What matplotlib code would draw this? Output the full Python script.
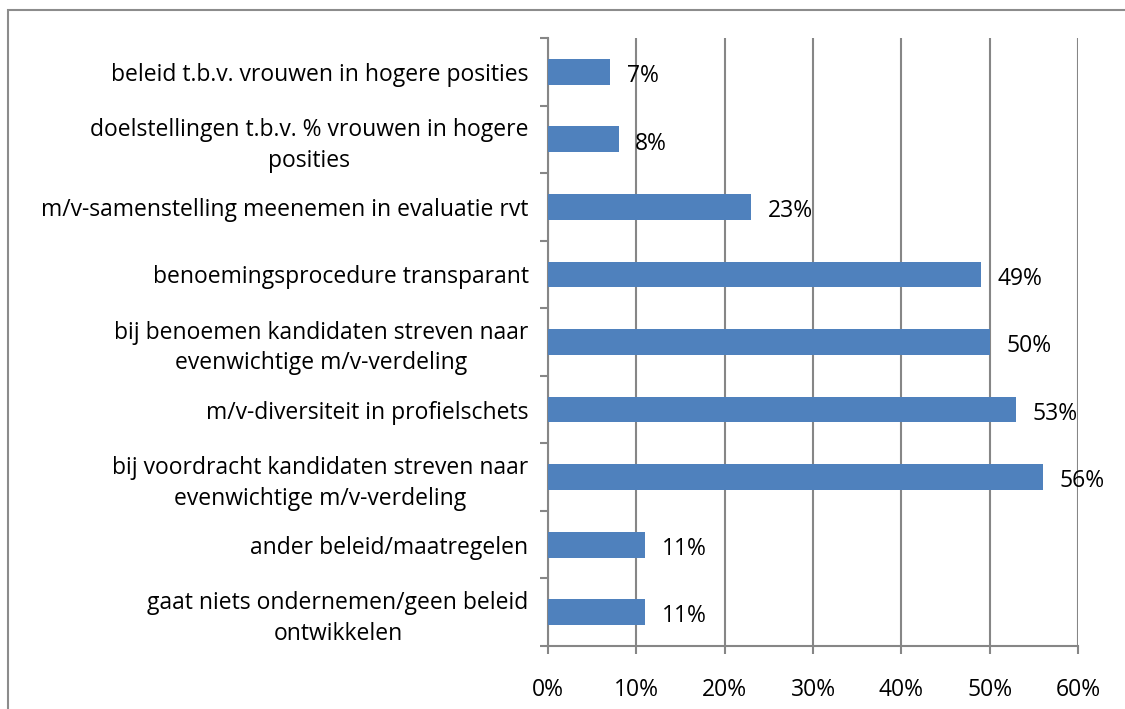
import matplotlib.pyplot as plt
from matplotlib.patches import Rectangle
from matplotlib.ticker import FuncFormatter

plt.rcParams['font.family'] = ['Open Sans', 'DejaVu Sans']

# maatregelen (van boven naar beneden) en aandeel in procenten
categories = [
    'beleid t.b.v. vrouwen in hogere posities',
    'doelstellingen t.b.v. % vrouwen in hogere\nposities',
    'm/v-samenstelling meenemen in evaluatie rvt',
    'benoemingsprocedure transparant',
    'bij benoemen kandidaten streven naar\nevenwichtige m/v-verdeling',
    'm/v-diversiteit in profielschets',
    'bij voordracht kandidaten streven naar\nevenwichtige m/v-verdeling',
    'ander beleid/maatregelen',
    'gaat niets ondernemen/geen beleid\nontwikkelen',
]
values = [7, 8, 23, 49, 50, 53, 56, 11, 11]
xticks = [0, 10, 20, 30, 40, 50, 60]

FS = 16.5
W, H = 1125, 709
fig = plt.figure(figsize=(W / 100, H / 100), dpi=100)
ax = fig.add_axes([548 / W, 1 - 646 / H, 530 / W, 608 / H])

# kader rond de grafiek
fig.add_artist(Rectangle((8 / W, -0.1), 1.2, 1 - 10 / H + 0.1,
                         transform=fig.transFigure, fill=False,
                         edgecolor='#8c8c8c', linewidth=1.5))

n = len(categories)
pos = list(range(n))[::-1]
bars = ax.barh(pos, values, height=0.38, color='#4F81BD', zorder=3)

for p, v in zip(pos, values):
    ax.annotate(f'{v}%', xy=(v, p), xytext=(12, -3), textcoords='offset points',
                ha='left', va='center', fontsize=FS, color='black', zorder=4)

ax.set_xlim(0, 60)
ax.set_ylim(-0.5, n - 0.5)
ax.set_xticks(xticks)
ax.xaxis.set_major_formatter(FuncFormatter(lambda x, _: f'{x:.0f}%'))
ax.grid(axis='x', color='#868686', linewidth=1.5, zorder=0)

ax.set_yticks(pos)
ax.set_yticklabels(categories, fontsize=FS)
for t in ax.get_yticklabels():
    t.set_multialignment('center')
    t.set_linespacing(1.36)
ax.set_yticks([i - 0.5 for i in range(n + 1)], minor=True)
ax.tick_params(axis='y', which='major', length=0, pad=14)
ax.tick_params(axis='y', which='minor', length=6, color='#868686', width=1.5)
ax.tick_params(axis='x', length=6, color='#868686', width=1.5, labelsize=FS, pad=17)

for s in ['top', 'right']:
    ax.spines[s].set_visible(False)
for s in ['left', 'bottom']:
    ax.spines[s].set_color('#868686')
    ax.spines[s].set_linewidth(1.5)

fig.savefig('out.png', dpi=100)
